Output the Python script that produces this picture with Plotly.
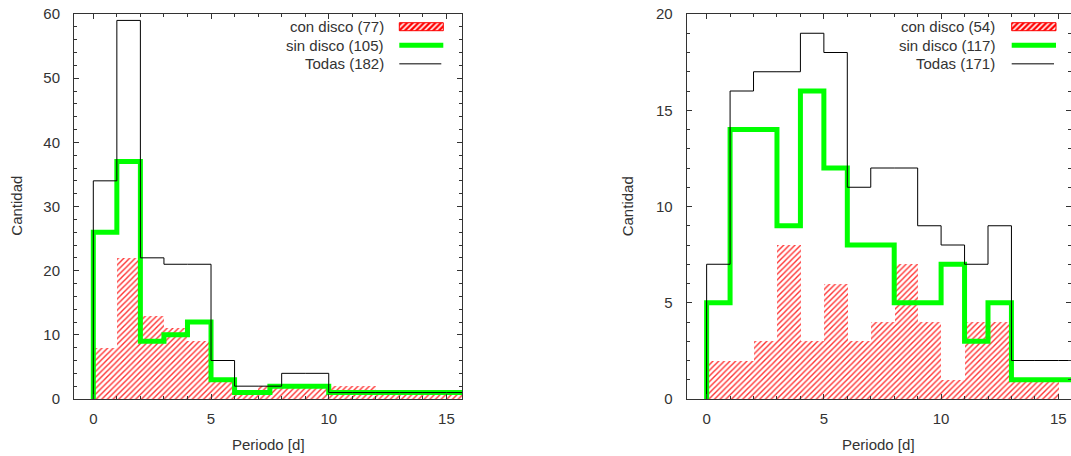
import plotly.graph_objects as go

W, H = 1071, 456

# ---- Left panel: 182 stars ----
edges_todas_L = [0, 1, 2, 3, 4, 5, 6, 7, 8, 9, 10, 11, 12, 13, 14, 15, 16, 17]
counts_todas_L = [34, 59, 22, 21, 21, 6, 2, 2, 4, 4, 1, 1, 1, 1, 1, 1, 1]
edges_sin_L = [0, 1, 2, 3, 4, 5, 6, 7.5, 10, 17]
counts_sin_L = [26, 37, 9, 10, 12, 3, 1, 2, 1]
bin_left_con_L = [0, 1, 2, 3, 4, 5, 6, 7, 8, 9, 10, 11, 12, 13, 14, 15]
counts_con_L = [8, 22, 13, 11, 9, 3, 1, 2, 2, 2, 2, 2, 1, 1, 1, 1]

# ---- Right panel: 171 stars ----
edges_todas_R = [0, 1, 2, 3, 4, 5, 6, 7, 8, 9, 10, 11, 12, 13, 14, 15, 16, 17]
counts_todas_R = [7, 16, 17, 17, 19, 18, 11, 12, 12, 9, 8, 7, 9, 2, 2, 2, 2]
edges_sin_R = [0, 1, 2, 3, 4, 5, 6, 7, 8, 9, 10, 11, 12, 13, 14, 15, 16, 17]
counts_sin_R = [5, 14, 14, 9, 16, 12, 8, 8, 5, 5, 7, 3, 5, 1, 1, 1, 1]
bin_left_con_R = [0, 1, 2, 3, 4, 5, 6, 7, 8, 9, 10, 11, 12, 13, 14]
counts_con_R = [2, 2, 3, 8, 3, 6, 3, 4, 7, 4, 1, 4, 4, 1, 1]

legend_L = ["con disco (77)", "sin disco (105)", "Todas (182)"]
legend_R = ["con disco (54)", "sin disco (117)", "Todas (171)"]

RED = "#ff0000"
GREEN = "#00ff00"
INK = "#333333"
FONT = "Liberation Sans"
FS = 15

HATCH = dict(shape="/", fgcolor=RED, bgcolor="white", size=4, solidity=0.35, fgopacity=0.8)


def step_xy(edges, counts):
    xs = [edges[0]] + edges[:-1] + [edges[-1]]
    ys = [0] + counts + [counts[-1]]
    return xs, ys


def px(x):
    return x / W


def py(y):
    return 1 - y / H


fig = go.Figure()

panels = [
    ("x", "y", bin_left_con_L, counts_con_L, edges_sin_L, counts_sin_L, edges_todas_L, counts_todas_L),
    ("x2", "y2", bin_left_con_R, counts_con_R, edges_sin_R, counts_sin_R, edges_todas_R, counts_todas_R),
]

for xa, ya, bl, cc, es, cs, et, ct in panels:
    fig.add_trace(go.Bar(
        x=[b + 0.5 for b in bl], y=cc, width=1.0, xaxis=xa, yaxis=ya,
        marker=dict(color="white", line=dict(width=0), pattern=HATCH),
        showlegend=False, hoverinfo="skip"))
    sx, sy = step_xy(es, cs)
    fig.add_trace(go.Scatter(x=sx, y=sy, mode="lines", line=dict(color=GREEN, width=5, shape="hv"),
                             xaxis=xa, yaxis=ya, showlegend=False, hoverinfo="skip"))
    tx, ty = step_xy(et, ct)
    fig.add_trace(go.Scatter(x=tx, y=ty, mode="lines", line=dict(color="#000000", width=1, shape="hv"),
                             xaxis=xa, yaxis=ya, showlegend=False, hoverinfo="skip"))


def axis(domain, rng, dtick, minor_dtick, anchor, xaxis=True):
    return dict(domain=domain, range=rng, dtick=dtick, tick0=0, anchor=anchor,
                automargin=False,
                showline=True, linecolor=INK, linewidth=1, mirror="ticks",
                ticks="inside", ticklen=5, tickcolor=INK, tickwidth=1,
                showgrid=False, zeroline=False,
                tickfont=dict(family=FONT, size=FS, color=INK),
                ticklabelstandoff=6 if xaxis else 10,
                minor=dict(ticks="inside", ticklen=3, dtick=minor_dtick, tick0=0,
                           tickcolor=INK, showgrid=False))


ydom = [py(399), py(14)]
fig.update_layout(
    template="none",
    width=W, height=H, margin=dict(l=0, r=0, t=0, b=0, autoexpand=False),
    paper_bgcolor="white", plot_bgcolor="rgba(0,0,0,0)",
    barmode="overlay", bargap=0, showlegend=False,
    xaxis=axis([px(74), px(462)], [-0.82, 15.66], 5, 1, "y"),
    yaxis=axis(ydom, [0, 60], 10, 2, "x", xaxis=False),
    xaxis2=axis([px(686.7), 1.0], [-0.85, 15.54], 5, 1, "y2"),
    yaxis2=axis(ydom, [0, 20], 5, 1, "x2", xaxis=False),
    # full-page pixel frame used for the key swatches
    xaxis3=dict(domain=[0, 1], range=[0, W], visible=False, anchor="y3", fixedrange=True),
    yaxis3=dict(domain=[0, 1], range=[H, 0], visible=False, anchor="x3", fixedrange=True),
)

# Axis titles
for cx in (16.7, 628.3):
    fig.add_annotation(text="Cantidad", x=px(cx), y=py(206), xref="paper", yref="paper",
                       xanchor="center", yanchor="middle",
                       textangle=-90, showarrow=False, font=dict(family=FONT, size=FS, color=INK))
for cx in (268, 878.3):
    fig.add_annotation(text="Periodo [d]", x=px(cx), y=py(444), xref="paper", yref="paper",
                       xanchor="center", yanchor="middle",
                       showarrow=False, font=dict(family=FONT, size=FS, color=INK))

# Key boxes
row_y = [26.7, 45.3, 63.7]
for labels, text_right, sw0, sw1 in ((legend_L, 385.7, 399.3, 443.3), (legend_R, 997.3, 1011.7, 1056)):
    for lab, ry in zip(labels, row_y):
        fig.add_annotation(text=lab, x=px(text_right), y=py(ry), xref="paper", yref="paper",
                           xanchor="right", yanchor="middle", showarrow=False,
                           font=dict(family=FONT, size=FS, color=INK))
    y0, y1 = row_y[0] - 4, row_y[0] + 4
    fig.add_trace(go.Scatter(
        x=[sw0, sw1, sw1, sw0, sw0], y=[y0, y0, y1, y1, y0], xaxis="x3", yaxis="y3",
        mode="lines", fill="toself", line=dict(color=RED, width=1),
        fillcolor="white", fillpattern=dict(shape="/", fgcolor=RED, bgcolor="white",
                                            size=4, solidity=0.6),
        showlegend=False, hoverinfo="skip"))
    fig.add_shape(type="line", xref="paper", yref="paper",
                  x0=px(sw0), x1=px(sw1), y0=py(row_y[1]), y1=py(row_y[1]),
                  line=dict(color=GREEN, width=5))
    fig.add_shape(type="line", xref="paper", yref="paper",
                  x0=px(sw0), x1=px(sw1 - 2), y0=py(row_y[2]), y1=py(row_y[2]),
                  line=dict(color="#555555", width=1.5))

fig.write_html("out.html")
